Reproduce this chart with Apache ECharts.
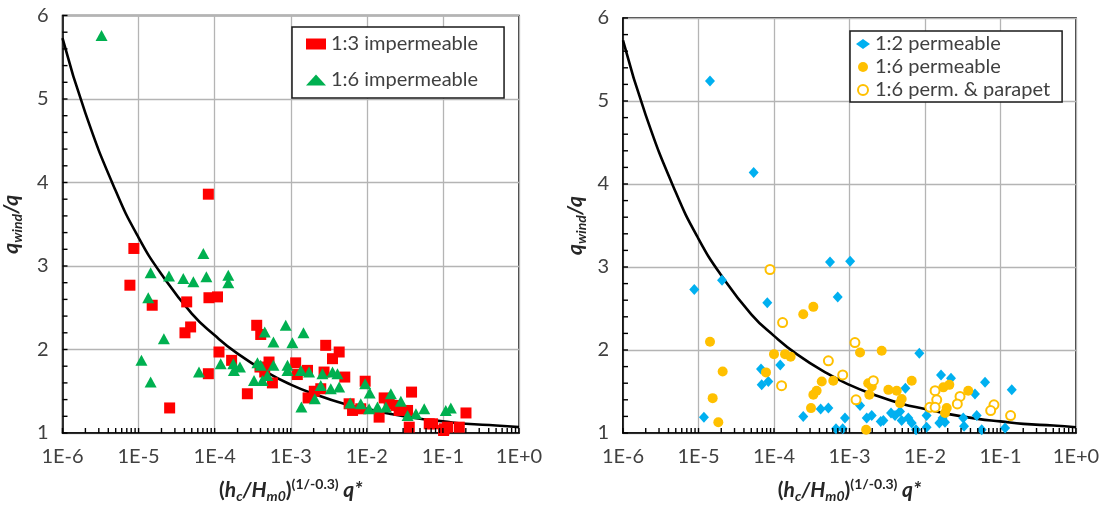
<!DOCTYPE html>
<html>
<head>
<meta charset="utf-8">
<script src="https://cdn.jsdelivr.net/npm/echarts@6.0.0/dist/echarts.min.js"></script>
<style>
  html, body { margin: 0; padding: 0; background: #fff; }
  #chart { width: 1103px; height: 508px; }
</style>
</head>
<body>
<div id="chart"></div>
<script>
// Decade tick labels of the shared horizontal log axis
const xTickLabels = ['1E-6', '1E-5', '1E-4', '1E-3', '1E-2', '1E-1', '1E+0'];

// Reference curve q_wind/q versus the scaled overtopping discharge
const curveX = [1e-6, 2e-6, 5e-6, 1e-5, 2e-5, 5e-5, 1e-4, 2e-4, 5e-4, 1e-3, 2e-3, 5e-3, 1e-2, 2e-2, 5e-2, 1e-1, 2e-1, 5e-1, 1];
const curveY = [5.73, 4.83, 3.90, 3.34, 2.90, 2.43, 2.17, 1.95, 1.72, 1.58, 1.47, 1.35, 1.29, 1.23, 1.17, 1.14, 1.11, 1.09, 1.07];

// Left panel: 1:3 impermeable slope
const imp13X = [8.26e-5, 8.67e-6, 7.69e-6, 1.51e-5, 4.29e-5, 8.41e-5, 1.09e-4, 4.83e-5, 4.07e-5, 1.14e-4,
  1.67e-4, 8.26e-5, 2.56e-5, 2.69e-4, 3.57e-4, 4.03e-4, 3.94e-4, 5.18e-4, 4.55e-4, 5.74e-4,
  1.16e-3, 1.22e-3, 1.66e-3, 1.69e-3, 2.88e-3, 4.33e-3, 3.54e-3, 2.74e-3, 5.13e-3, 2.04e-3,
  2.48e-3, 9.51e-3, 5.85e-3, 6.49e-3, 8.32e-3, 1.45e-2, 1.69e-2, 1.97e-2, 2.66e-2, 2.41e-2,
  3.87e-2, 3.61e-2, 3.43e-2, 6.61e-2, 7.31e-2, 0.104, 0.115, 0.164, 0.201, 0.102];
const imp13Y = [3.86, 3.21, 2.77, 2.53, 2.57, 2.62, 2.63, 2.27, 2.20, 1.97,
  1.87, 1.71, 1.30, 1.47, 2.29, 2.18, 1.79, 1.85, 1.73, 1.60,
  1.84, 1.70, 1.75, 1.42, 2.05, 1.97, 1.89, 1.73, 1.67, 1.50,
  1.53, 1.62, 1.35, 1.27, 1.29, 1.19, 1.42, 1.35, 1.27, 1.33,
  1.49, 1.07, 1.27, 1.11, 1.11, 1.05, 1.07, 1.07, 1.24, 1.03];

// Left panel: 1:6 impermeable slope
const imp16X = [3.26e-6, 7.10e-5, 1.44e-5, 2.51e-5, 3.87e-5, 5.25e-5, 7.78e-5, 1.51e-4, 1.51e-4, 1.34e-5,
  2.15e-5, 1.09e-5, 1.44e-5, 6.22e-5, 1.20e-4, 1.76e-4, 1.79e-4, 2.15e-4, 3.29e-4, 4.24e-4,
  3.65e-4, 4.03e-4, 4.55e-4, 5.92e-4, 8.59e-4, 1.05e-3, 1.47e-3, 4.93e-4, 5.92e-4, 9.06e-4,
  9.06e-4, 1.36e-3, 1.74e-3, 1.38e-3, 2.61e-3, 3.54e-3, 4.11e-3, 2.48e-3, 3.36e-3, 4.33e-3,
  2.07e-3, 9.51e-3, 1.09e-2, 6.03e-3, 8.32e-3, 1.07e-2, 1.38e-2, 1.78e-2, 2.07e-2, 2.80e-2,
  3.43e-2, 4.42e-2, 5.68e-2, 0.109, 0.127];
const imp16Y = [5.76, 3.15, 2.92, 2.88, 2.85, 2.81, 2.87, 2.89, 2.80, 2.62,
  2.13, 1.87, 1.61, 1.73, 1.83, 1.83, 1.75, 1.79, 1.63, 1.63,
  1.84, 1.81, 2.21, 2.09, 2.29, 2.08, 2.20, 1.69, 1.81, 1.81,
  1.75, 1.75, 1.73, 1.31, 1.71, 1.73, 1.71, 1.57, 1.53, 1.55,
  1.41, 1.59, 1.48, 1.36, 1.35, 1.29, 1.31, 1.31, 1.47, 1.38,
  1.21, 1.23, 1.29, 1.27, 1.30];

// Right panel: 1:2 permeable slope
const perm12X = [1.42e-5, 5.38e-5, 8.79e-6, 2.05e-5, 8.15e-5, 5.52e-4, 1.02e-3, 6.98e-4, 6.73e-5, 6.87e-5,
  8.41e-5, 1.21e-4, 1.18e-5, 2.44e-4, 4.15e-4, 5.25e-4, 6.62e-4, 8.13e-4, 8.71e-4, 8.41e-3,
  1.63e-2, 2.21e-2, 6.24e-2, 4.59e-2, 0.141, 1.38e-3, 5.50e-3, 1.69e-3, 1.97e-3, 2.59e-3,
  2.81e-3, 3.55e-3, 4.01e-3, 4.67e-3, 4.91e-3, 6.01e-3, 6.67e-3, 7.60e-3, 1.05e-2, 1.05e-2,
  1.55e-2, 1.84e-2, 1.71e-2, 3.21e-2, 3.29e-2, 4.84e-2, 5.64e-2, 0.115];
const perm12Y = [5.24, 4.14, 2.73, 2.84, 2.57, 3.06, 3.07, 2.64, 1.77, 1.58,
  1.62, 1.82, 1.19, 1.20, 1.29, 1.30, 1.05, 1.05, 1.18, 1.96,
  1.70, 1.66, 1.61, 1.47, 1.52, 1.33, 1.54, 1.18, 1.21, 1.14,
  1.15, 1.24, 1.21, 1.26, 1.15, 1.18, 1.12, 1.04, 1.21, 1.07,
  1.12, 1.13, 1.18, 1.18, 1.08, 1.21, 1.04, 1.06];

// Right panel: 1:6 permeable slope
const perm16X = [1.42e-5, 2.09e-5, 1.54e-5, 1.83e-5, 7.83e-5, 1.00e-4, 1.40e-4, 1.66e-4, 2.44e-4, 3.32e-4,
  4.29e-4, 6.10e-4, 3.32e-4, 3.67e-4, 3.09e-4, 1.38e-3, 2.67e-3, 1.77e-3, 1.97e-3, 1.83e-3,
  3.27e-3, 4.22e-3, 4.91e-3, 4.67e-3, 6.67e-3, 1.75e-2, 2.10e-2, 1.94e-2, 1.84e-2, 3.74e-2, 1.66e-3];
const perm16Y = [2.10, 1.74, 1.42, 1.13, 1.73, 1.95, 1.95, 1.92, 2.43, 2.52,
  1.62, 1.63, 1.46, 1.51, 1.30, 1.97, 1.99, 1.60, 1.56, 1.46,
  1.52, 1.51, 1.41, 1.36, 1.63, 1.55, 1.58, 1.30, 1.24, 1.51, 1.04];

// Right panel: 1:6 permeable slope with parapet
const parapetX = [8.85e-5, 1.30e-4, 1.26e-4, 5.25e-4, 8.13e-4, 1.18e-3, 2.07e-3, 1.22e-3, 1.36e-2, 1.43e-2,
  2.91e-2, 2.68e-2, 1.16e-2, 1.36e-2, 8.20e-2, 7.41e-2, 0.136];
const parapetY = [2.97, 2.33, 1.57, 1.87, 1.70, 2.09, 1.63, 1.40, 1.51, 1.40,
  1.44, 1.35, 1.31, 1.31, 1.34, 1.27, 1.21];

const FONT = 'Lato';
const TEXT = '#404040';
const TITLE = '#262626';

function pairs(xs, ys) { return xs.map((x, i) => [x, ys[i]]); }

// x tick marks: 1..9 steps inside every decade
const xTickVals = [];
for (let e = -6; e < 0; e++) {
  for (let m = 1; m <= 9; m++) xTickVals.push(m * Math.pow(10, e));
}
xTickVals.push(1);

// y tick marks every 0.2
const yTickVals = [];
for (let k = 0; k <= 25; k++) yTickVals.push(Math.round((1 + k * 0.2) * 10) / 10);

const nameRich = {
  p:   { fontFamily: FONT, fontSize: 21, fontWeight: 'bold', color: TITLE, lineHeight: 26, verticalAlign: 'middle' },
  bi:  { fontFamily: FONT, fontSize: 21, fontWeight: 'bold', fontStyle: 'italic', color: TITLE, lineHeight: 26, verticalAlign: 'middle' },
  sub: { fontFamily: FONT, fontSize: 14, fontWeight: 'bold', fontStyle: 'italic', color: TITLE, lineHeight: 14, verticalAlign: 'bottom' },
  sup: { fontFamily: FONT, fontSize: 14, fontWeight: 'bold', color: TITLE, lineHeight: 14, verticalAlign: 'top' }
};

const gridLine = { color: '#b4b4b4', width: 1.3 };

function xAxisFor(gridIndex) {
  return {
    type: 'log', logBase: 10, min: 1e-6, max: 1, gridIndex: gridIndex, position: 'bottom',
    axisLine: { show: true, lineStyle: { color: '#000', width: 1.5 } },
    axisTick: { show: false },
    axisLabel: {
      formatter: v => xTickLabels[Math.round(Math.log10(v)) + 6],
      fontSize: 20, color: TEXT, fontFamily: FONT, margin: 14
    },
    splitLine: { show: true, lineStyle: gridLine },
    name: '{p|(}{bi|h}{sub|c}{bi|/H}{sub|m0}{p|)}{sup|(1/-0.3)}{bi| q*}',
    nameLocation: 'middle', nameGap: 44,
    nameTextStyle: { rich: nameRich }
  };
}

function yAxisFor(gridIndex, gap) {
  return {
    type: 'value', min: 1, max: 6, interval: 1, gridIndex: gridIndex, position: 'left',
    axisLine: { show: true, lineStyle: { color: '#000', width: 1.5 } },
    axisTick: { show: false },
    axisLabel: { fontSize: 20, color: TEXT, fontFamily: FONT, margin: 14 },
    splitLine: { show: true, lineStyle: gridLine },
    name: '{bi|q}{sub|wind}{bi|/q}',
    nameLocation: 'middle', nameGap: gap, nameRotate: 90,
    nameTextStyle: { rich: nameRich }
  };
}

// short inward tick marks along the bottom axis line
function xTickSeries(idx) {
  return {
    type: 'scatter', xAxisIndex: idx, yAxisIndex: idx, silent: true, clip: false, z: 10,
    data: xTickVals.map(v => [v, 1]),
    symbol: 'rect', symbolSize: [1.4, 5], symbolOffset: [0, -2.5],
    itemStyle: { color: '#000', opacity: 1 }, emphasis: { disabled: true }
  };
}

// short inward tick marks along the left axis line
function yTickSeries(idx) {
  return {
    type: 'scatter', xAxisIndex: idx, yAxisIndex: idx, silent: true, clip: false, z: 10,
    data: yTickVals.map(v => [1e-6, v]),
    symbol: 'rect', symbolSize: [5, 1.4], symbolOffset: [2.5, 0],
    itemStyle: { color: '#000', opacity: 1 }, emphasis: { disabled: true }
  };
}

function curveSeries(idx) {
  return {
    type: 'line', xAxisIndex: idx, yAxisIndex: idx,
    data: pairs(curveX, curveY), smooth: true, showSymbol: false, silent: true,
    lineStyle: { color: '#000', width: 2.6 }, z: 2
  };
}

function legendFor(names, left, top, itemW, itemH, gap, padding) {
  return {
    data: names, orient: 'vertical', left: left, top: top,
    itemWidth: itemW, itemHeight: itemH, itemGap: gap, padding: padding,
    backgroundColor: '#fff', borderColor: '#1a1a1a', borderWidth: 1.5,
    textStyle: { fontFamily: FONT, fontSize: 20, color: TEXT },
    selectedMode: false
  };
}

const option = {
  animation: false,
  backgroundColor: '#fff',
  grid: [
    { left: 62, top: 15.5, right: 584, bottom: 74, show: true, borderColor: '#000', borderWidth: 1.5 },
    { left: 623, top: 18, right: 27, bottom: 74, show: true, borderColor: '#000', borderWidth: 1.5 }
  ],
  xAxis: [xAxisFor(0), xAxisFor(1)],
  yAxis: [yAxisFor(0, 38), yAxisFor(1, 35)],
  legend: [
    legendFor(['1:3 impermeable', '1:6 impermeable'], 292, 27, 20, 11, 16, [7, 26, 8, 14]),
    legendFor(['1:2 permeable', '1:6 permeable', '1:6 perm. & parapet'], 850, 31, 14, 10, 3, [3, 12, 2, 6])
  ],
  series: [
    xTickSeries(0), yTickSeries(0),
    xTickSeries(1), yTickSeries(1),
    curveSeries(0),
    curveSeries(1),
    {
      name: '1:3 impermeable', type: 'scatter', xAxisIndex: 0, yAxisIndex: 0,
      data: pairs(imp13X, imp13Y), symbol: 'rect', symbolSize: 11,
      itemStyle: { color: '#ff0000', opacity: 1 }, z: 3
    },
    {
      name: '1:6 impermeable', type: 'scatter', xAxisIndex: 0, yAxisIndex: 0,
      data: pairs(imp16X, imp16Y), symbol: 'triangle', symbolSize: [12, 11],
      itemStyle: { color: '#00b050', opacity: 1 }, z: 3
    },
    {
      name: '1:2 permeable', type: 'scatter', xAxisIndex: 1, yAxisIndex: 1,
      data: pairs(perm12X, perm12Y), symbol: 'diamond', symbolSize: [10, 11],
      itemStyle: { color: '#00b0f0', opacity: 1 }, z: 3
    },
    {
      name: '1:6 permeable', type: 'scatter', xAxisIndex: 1, yAxisIndex: 1,
      data: pairs(perm16X, perm16Y), symbol: 'circle', symbolSize: 10,
      itemStyle: { color: '#ffc000', opacity: 1 }, z: 3
    },
    {
      name: '1:6 perm. & parapet', type: 'scatter', xAxisIndex: 1, yAxisIndex: 1,
      data: pairs(parapetX, parapetY), symbol: 'emptyCircle', symbolSize: 9,
      itemStyle: { color: '#ffc000', borderWidth: 1.6, opacity: 1 }, z: 3
    }
  ]
};

const chart = echarts.init(document.getElementById('chart'), null, { renderer: 'canvas' });
chart.setOption(option);
</script>
</body>
</html>
